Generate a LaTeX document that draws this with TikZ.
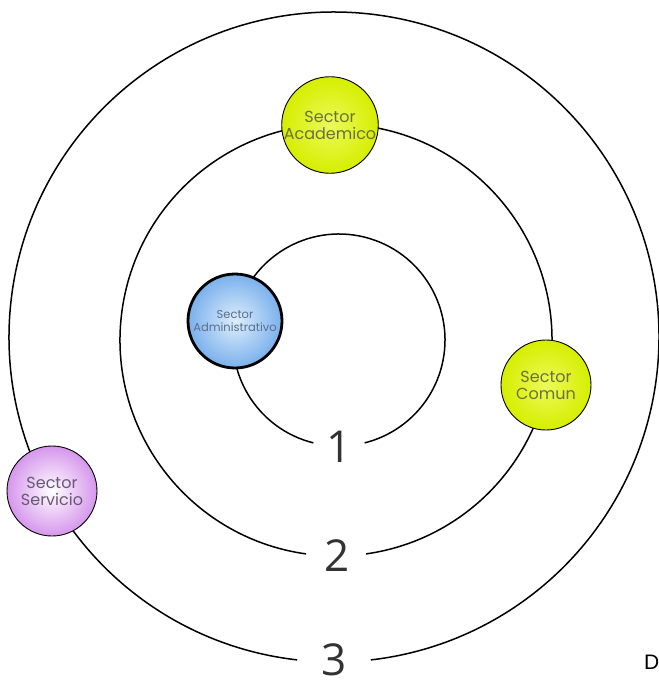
\documentclass[tikz,border=0pt]{standalone}
\usepackage{fontspec}
\setmainfont{Poppins}
\newfontfamily\numfont{Open Sans}
\newfontfamily\dfont{Liberation Sans}
\definecolor{yg}{RGB}{214,238,0}
\definecolor{ygl}{RGB}{236,250,90}
\definecolor{ygtext}{RGB}{110,112,60}
\definecolor{bl}{RGB}{122,176,236}
\definecolor{bll}{RGB}{222,238,252}
\definecolor{bltext}{RGB}{90,110,140}
\definecolor{lil}{RGB}{214,150,236}
\definecolor{liltext}{RGB}{105,88,115}
\begin{document}
\begin{tikzpicture}[x=1pt,y=-1pt,
  ring/.style={line width=1.5pt,black},
  sector/.style={circle,draw=black,line width=0.9pt,minimum size=90pt,inner sep=0pt,align=center,font=\fontsize{16}{17}\selectfont},
  greensec/.style={sector,inner color=ygl,outer color=yg,text=ygtext},
  numlabel/.style={font=\numfont\fontsize{44}{44}\selectfont,text=black!80,inner sep=0pt}
]
\useasboundingbox (0,0) rectangle (659,686);
% rings
\coordinate (c1) at (339,340);
\coordinate (c2) at (336,340);
\coordinate (c3) at (334,337);
\draw[ring] (c1) ++(104:106) arc[start angle=104,end angle=436,radius=106];
\draw[ring] (c2) ++(98:216) arc[start angle=98,end angle=442,radius=216];
\draw[ring] (c3) ++(96.5:325) arc[start angle=96.5,end angle=443.5,radius=325];
% numbers
\node[numlabel] (n1) at (339,447) {1};
\node[numlabel] (n2) at (337,556) {2};
\node[numlabel] (n3) at (334,660) {3};
% sectors
\node[sector,line width=2.8pt,minimum size=94pt,inner color=bll,outer color=bl,
  text=bltext,font=\fontsize{11.5}{13}\selectfont] (adm) at (235,321) {Sector\\Administrativo};
\node[greensec] (aca) at (330,125) {Sector\\Academico};
\node[greensec] (com) at (546,385) {Sector\\Comun};
\node[sector,inner color=white,outer color=lil,text=liltext] (ser) at (52,491) {Sector\\Servicio};
% cut text
\node[font=\dfont\fontsize{21}{21}\selectfont,anchor=west,inner sep=0pt] (d) at (644,662) {D};
\end{tikzpicture}
\end{document}
